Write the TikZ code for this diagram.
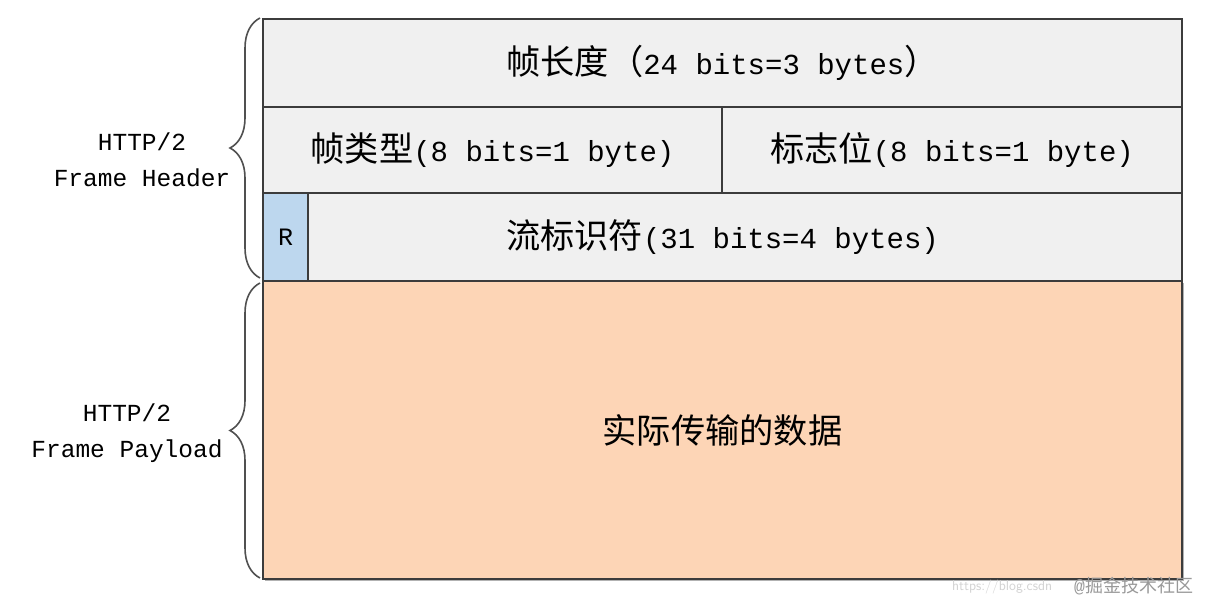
\documentclass[tikz,border=0pt]{standalone}
\usepackage{fontspec}
\setmainfont{Liberation Mono}
\newfontfamily\cjk[Scale=1.18]{Noto Sans CJK SC}
\newfontfamily\cjkwm{Noto Sans CJK SC}
\usetikzlibrary{decorations.pathreplacing}
\definecolor{cellgray}{HTML}{F0F0F0}
\definecolor{linegray}{HTML}{3C3C3C}
\definecolor{rblue}{HTML}{BDD7EE}
\definecolor{peach}{HTML}{FDD5B6}
\definecolor{bracegray}{HTML}{505050}
\tikzset{
  cell/.style={draw=linegray, line width=2pt, fill=cellgray, inner sep=0pt, anchor=north west,
    font=\fontsize{29}{34}\selectfont},
  lbl/.style={align=center, font=\fontsize{24.5}{36}\selectfont, inner sep=0pt},
  bracestyle/.style={draw=bracegray, line width=1.6pt, decorate,
    decoration={brace, amplitude=30pt}},
  wm/.style={inner sep=0pt, anchor=base west}
}
\begin{document}
\begin{tikzpicture}[x=1pt,y=-1pt]
\useasboundingbox[fill=white] (0,0) rectangle (1209,601);
% payload with faint shadow
\fill[gray!60] (265,283) rectangle (1184,581);
\node[cell, fill=peach, minimum width=919pt, minimum height=298pt] (pay) at (262,280)
  {{\cjk 实际传输的数据}};
\node[cell, minimum width=919pt, minimum height=88pt] (len) at (262,18)
  {{\cjk 帧长度（}24 bits=3 bytes{\cjk ）}};
\node[cell, minimum width=459pt, minimum height=86pt] (type) at (262,106)
  {{\cjk 帧类型}(8 bits=1 byte)};
\node[cell, minimum width=460pt, minimum height=86pt] (flags) at (721,106)
  {{\cjk 标志位}(8 bits=1 byte)};
\node[cell, minimum width=919pt, minimum height=88pt] (sid) at (262,192)
  {{\cjk 流标识符}(31 bits=4 bytes)};
\node[cell, fill=rblue, minimum width=45pt, minimum height=88pt,
  font=\fontsize{25}{28}\selectfont] (R) at (262,192) {R};
% braces
\coordinate (hb) at (260,278);
\coordinate (ht) at (260,18);
\coordinate (pb) at (260,578);
\coordinate (pt) at (260,283);
\draw[bracestyle] (hb) -- (ht);
\draw[bracestyle] (pb) -- (pt);
\node[lbl] (hdrlbl) at (142,160) {HTTP/2\\Frame Header};
\node[lbl] (paylbl) at (127,433) {HTTP/2\\Frame Payload};
% watermark
\node[wm, text=gray!35, font=\fontsize{14}{16}\selectfont\sffamily] (url) at (952,590) {https://blog.csdn};
\node[wm, text=gray!80, font=\fontsize{18}{20}\selectfont] (juejin) at (1074,592) {@{\cjkwm 掘金技术社区}};
\end{tikzpicture}
\end{document}
